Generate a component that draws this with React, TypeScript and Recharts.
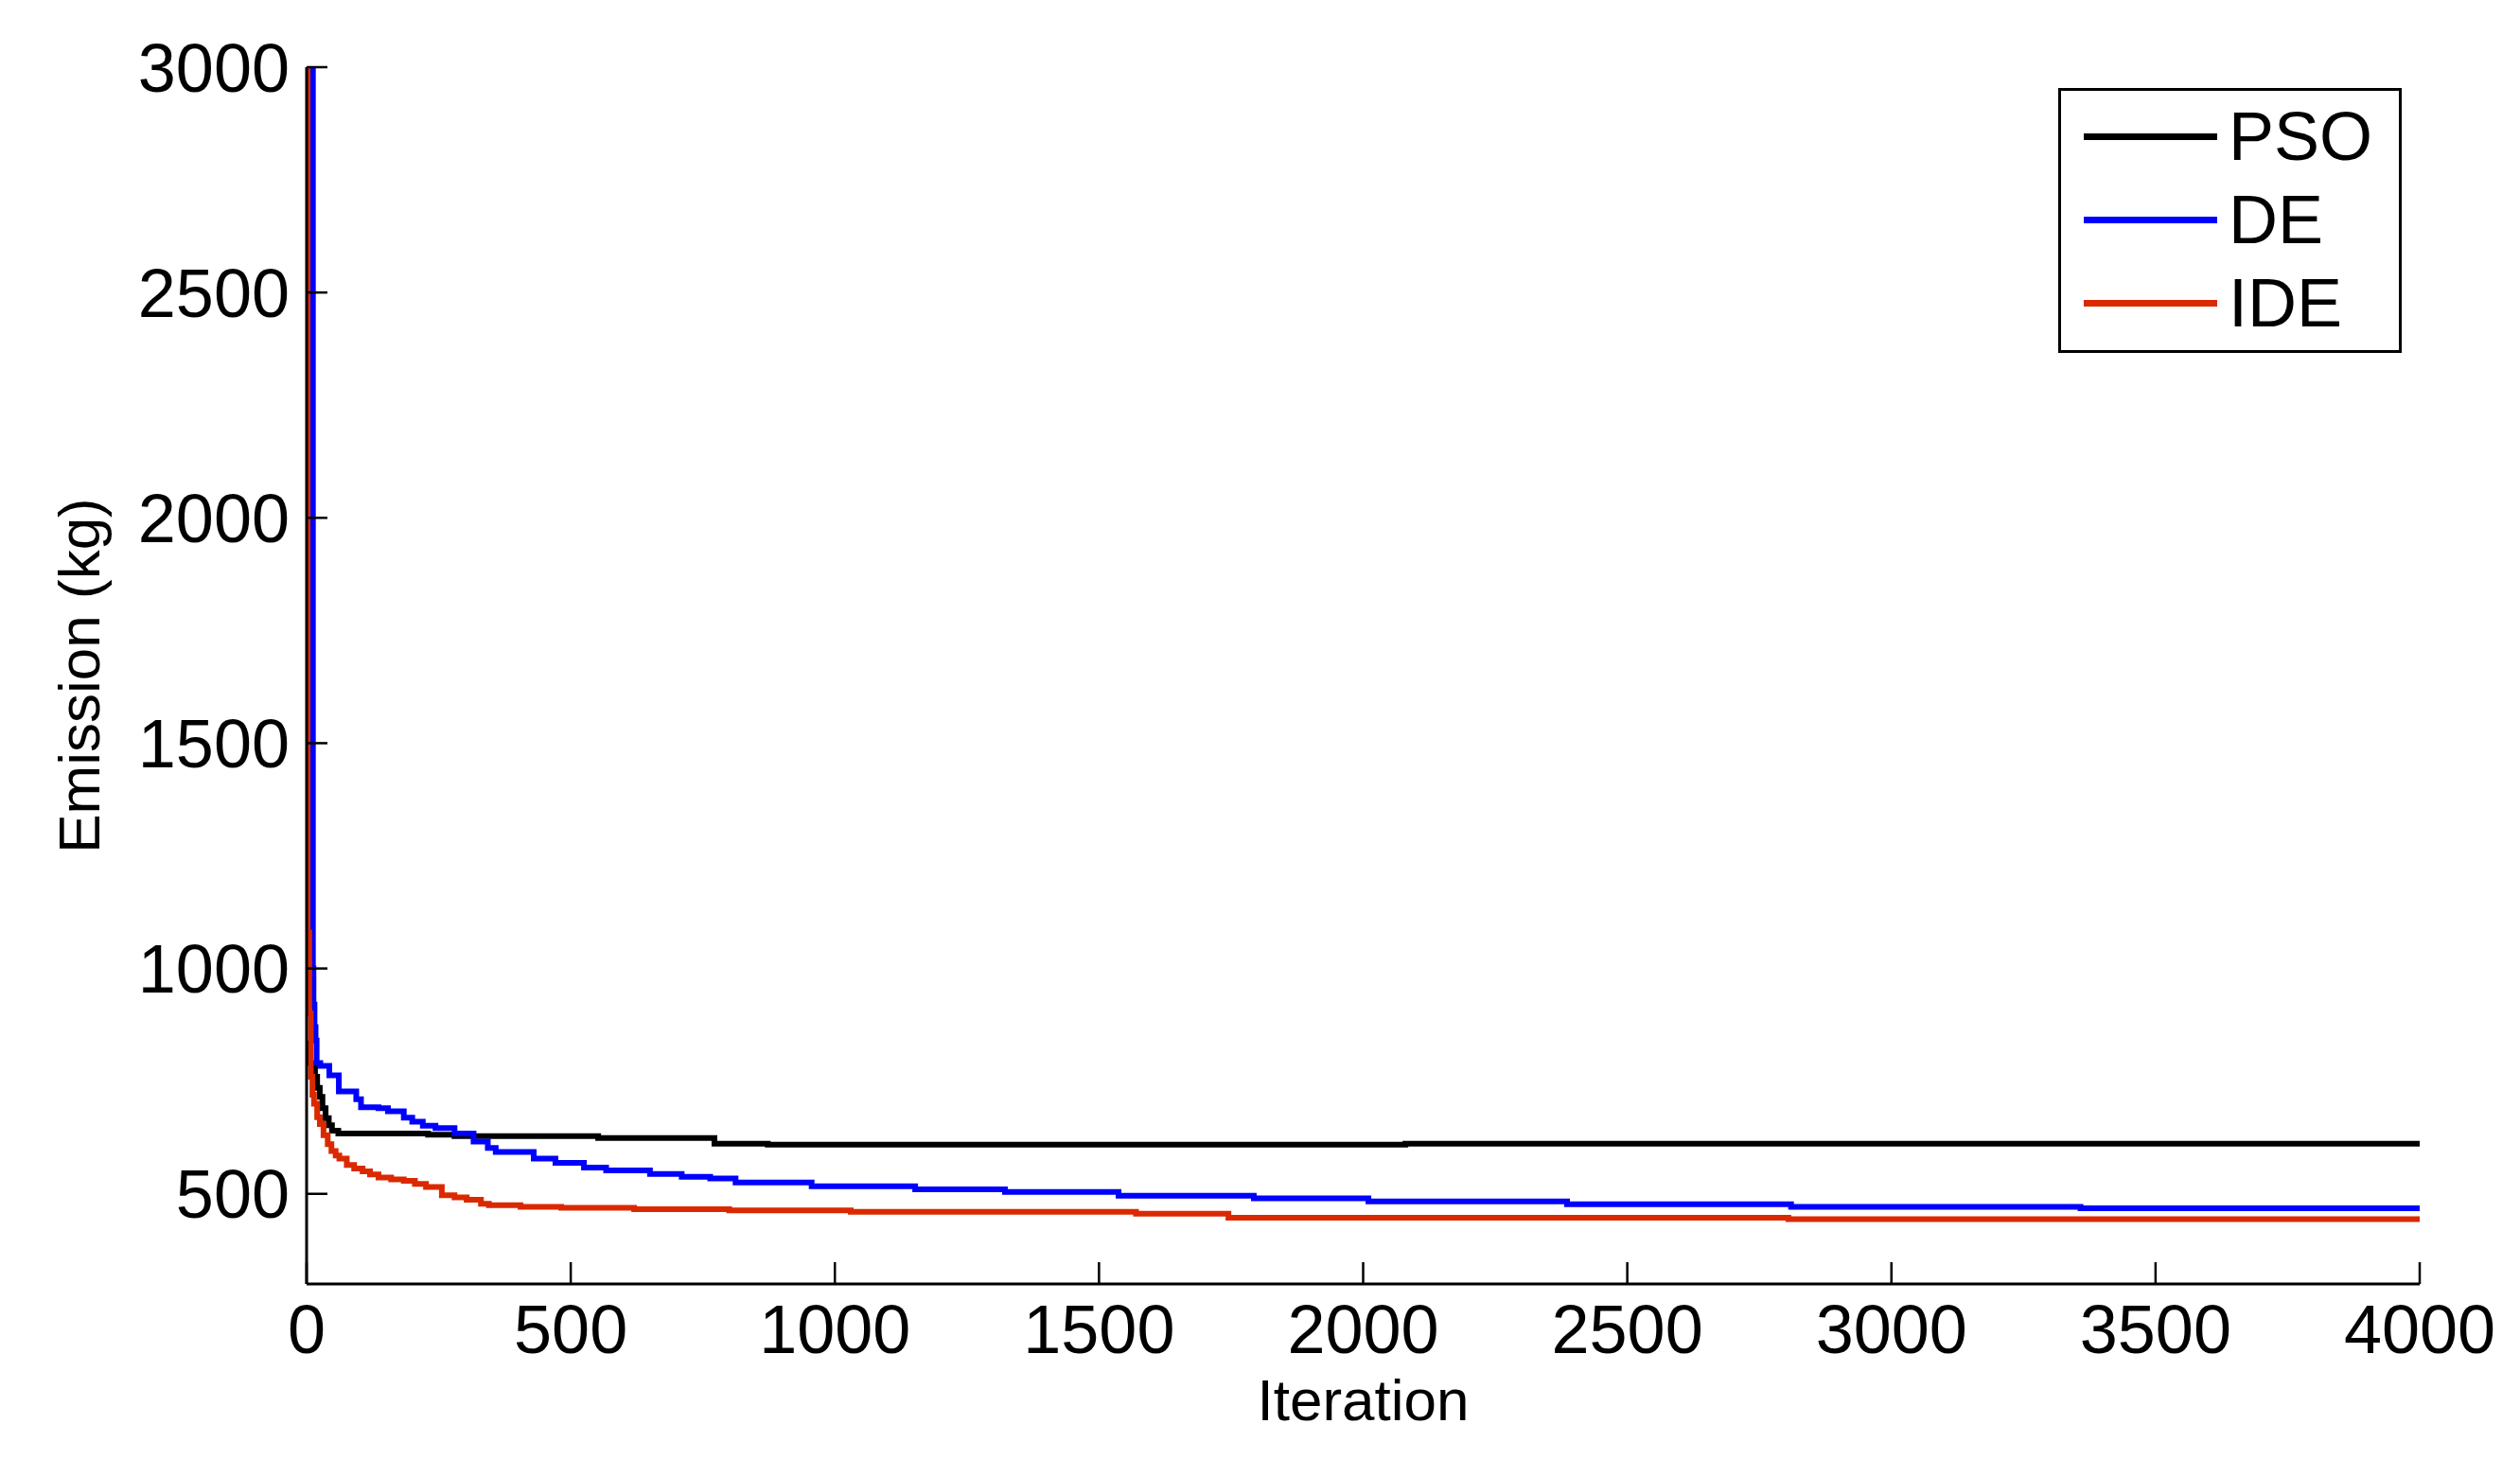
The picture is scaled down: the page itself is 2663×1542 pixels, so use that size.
import React from 'react';
import { LineChart, Line, XAxis, YAxis, Legend } from 'recharts';

// convergence curves (iteration where a level starts, emission in kg)
const psoIter = [0, 1, 12, 16, 20, 25, 30, 36, 42, 48, 60, 230, 280, 552, 772, 873, 2080, 4000];
const psoEmission = [834, 790, 780, 760, 735, 715, 690, 668, 652, 640, 634, 631, 628, 624, 611, 609, 611, 611];

const deIter = [0, 10, 12, 13, 15, 17, 19, 26, 43, 61, 94, 103, 136, 154, 184, 200, 220, 244, 280, 316, 343, 358, 430, 471, 525, 567, 650, 710, 764, 812, 956, 1152, 1322, 1537, 1793, 2010, 2386, 2810, 3358, 4000];
const deEmission = [3000, 3000, 1000, 920, 870, 840, 790, 784, 763, 727, 710, 692, 690, 683, 669, 660, 651, 646, 634, 616, 602, 593, 578, 569, 558, 552, 544, 538, 534, 525, 517, 510, 504, 496, 490, 483, 477, 471, 468, 468];

const ideIter = [0, 2, 5, 8, 11, 14, 20, 25, 32, 40, 47, 55, 62, 76, 90, 106, 120, 136, 160, 184, 205, 226, 256, 280, 303, 330, 345, 405, 482, 620, 800, 1030, 1570, 1745, 2805, 4000];
const ideEmission = [3000, 1080, 900, 760, 720, 700, 670, 655, 630, 610, 595, 585, 578, 564, 556, 550, 543, 536, 532, 529, 522, 515, 497, 492, 487, 478, 475, 471, 469, 466, 463, 460, 456, 447, 444, 443];

const seriesNames = ['PSO', 'DE', 'IDE'];
const xTicks = [0, 500, 1000, 1500, 2000, 2500, 3000, 3500, 4000];
const yTicks = [500, 1000, 1500, 2000, 2500, 3000];

const toPoints = (iters: number[], vals: number[]) => iters.map((it, i) => ({ iter: it, value: vals[i] }));

const FONT = '"Liberation Sans", Arial, Helvetica, sans-serif';

const LegendBox = ({ payload }: any) => {
    // keep plotting order, recharts sorts legend items by name otherwise
    const items = [...(payload || [])].sort((a: any, b: any) => seriesNames.indexOf(a.value) - seriesNames.indexOf(b.value));
    return (
        <div style={{
            width: 363, height: 280, boxSizing: 'border-box', border: '3px solid #000',
            background: '#fff', paddingTop: 4, fontFamily: FONT
        }}>
            {items.map((entry: any) => (
                <div key={entry.value} style={{ display: 'flex', alignItems: 'center', height: 88 }}>
                    <div style={{ width: 141, height: 7, marginLeft: 24, background: entry.color }} />
                    <span style={{ fontSize: 72, lineHeight: '88px', marginLeft: 12, color: '#000' }}>{entry.value}</span>
                </div>
            ))}
        </div>
    );
};

export default function App() {
    const tickStyle = { fontSize: 72, fill: '#000', fontFamily: FONT };
    return (
        <div style={{ position: 'absolute', left: 0, top: 0, width: 2663, height: 1542, background: '#fff' }}>
            <LineChart width={2663} height={1542} margin={{ top: 71, right: 106, bottom: 0, left: 0 }} style={{ fontFamily: FONT }}>
                <XAxis
                    type="number"
                    dataKey="iter"
                    domain={[0, 4000]}
                    ticks={xTicks}
                    interval={0}
                    height={185}
                    tick={tickStyle}
                    tickSize={-23}
                    tickMargin={45}
                    axisLine={{ stroke: '#000', strokeWidth: 3 }}
                    tickLine={{ stroke: '#000', strokeWidth: 2.5 }}
                    allowDataOverflow
                    label={{ value: 'Iteration', position: 'insideBottom', offset: 41, style: { fontSize: 62, fill: '#000', fontFamily: FONT } }}
                />
                <YAxis
                    type="number"
                    dataKey="value"
                    domain={[300, 3000]}
                    ticks={yTicks}
                    interval={0}
                    width={324}
                    tick={tickStyle}
                    tickSize={-22}
                    tickMargin={40}
                    axisLine={{ stroke: '#000', strokeWidth: 3 }}
                    tickLine={{ stroke: '#000', strokeWidth: 2.5 }}
                    allowDataOverflow
                    label={{ value: 'Emission (kg)', angle: -90, position: 'insideLeft', offset: 83, style: { fontSize: 62, fill: '#000', fontFamily: FONT, textAnchor: 'middle' } }}
                />
                <Legend
                    layout="horizontal"
                    verticalAlign="middle"
                    align="center"
                    content={<LegendBox />}
                    wrapperStyle={{ top: 93, left: 2175, width: 363, height: 280 }}
                />
                <Line data={toPoints(psoIter, psoEmission)} dataKey="value" name="PSO" type="stepAfter" stroke="#000000" strokeWidth={6} dot={false} isAnimationActive={false} />
                <Line data={toPoints(deIter, deEmission)} dataKey="value" name="DE" type="stepAfter" stroke="#0000FF" strokeWidth={6} dot={false} isAnimationActive={false} />
                <Line data={toPoints(ideIter, ideEmission)} dataKey="value" name="IDE" type="stepAfter" stroke="#DA2900" strokeWidth={6} dot={false} isAnimationActive={false} />
            </LineChart>
        </div>
    );
}
